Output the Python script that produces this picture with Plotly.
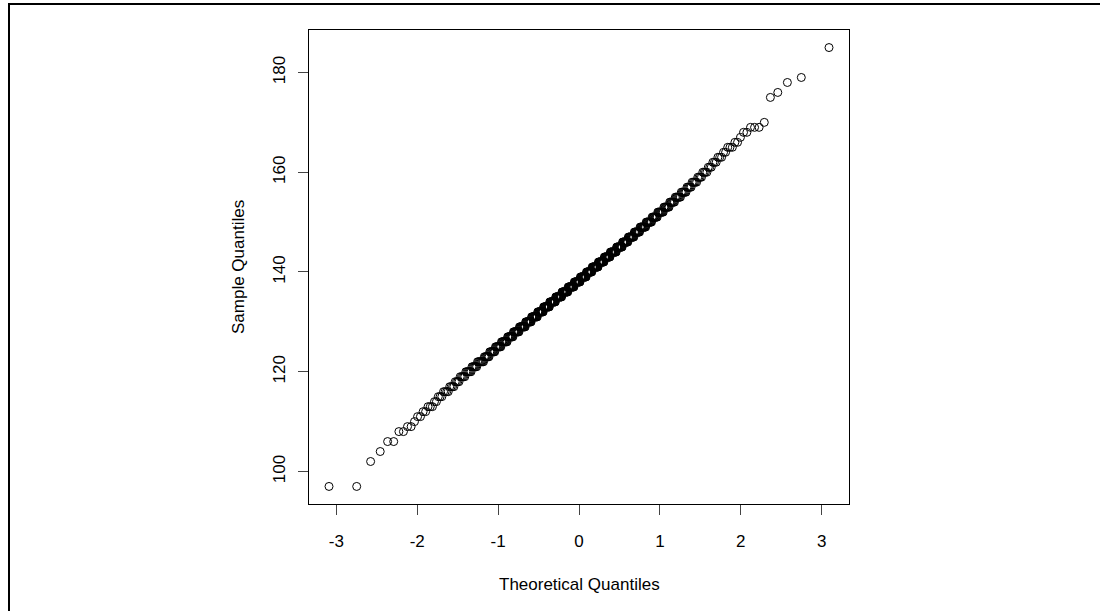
import plotly.graph_objects as go
from statistics import NormalDist

# Sorted sample values (integers) and how many observations take each value
sample_values = [97, 102, 104, 106,
                 108, 109, 110, 111, 112, 113, 114, 115, 116, 117, 118, 119,
                 120, 121, 122, 123, 124, 125, 126, 127, 128, 129,
                 130, 131, 132, 133, 134, 135, 136, 137, 138, 139,
                 140, 141, 142, 143, 144, 145, 146, 147, 148, 149,
                 150, 151, 152, 153, 154, 155, 156, 157, 158, 159,
                 160, 161, 162, 163, 164, 165, 166, 167, 168, 169,
                 170, 175, 176, 178, 179, 185]
sample_counts = [2, 1, 1, 2,
                 2, 2, 1, 2, 2, 3, 2, 3, 4, 4, 4, 5,
                 6, 6, 8, 7, 8, 9, 10, 10, 11, 12,
                 12, 13, 13, 14, 14, 15, 15, 15, 15, 15,
                 14, 15, 14, 14, 14, 13, 12, 12, 11, 11,
                 10, 9, 9, 8, 7, 7, 6, 5, 5, 4,
                 4, 3, 3, 3, 2, 3, 2, 1, 2, 3,
                 1, 1, 1, 1, 1, 1]

x_ticks = [-3, -2, -1, 0, 1, 2, 3]
x_tick_text = ["-3", "-2", "-1", "0", "1", "2", "3"]
y_ticks = [100, 120, 140, 160, 180]
y_tick_text = ["100", "120", "140", "160", "180"]

x_title = "Theoretical Quantiles"
y_title = "Sample Quantiles"

# Expand to the ordered sample
sample = []
for v, c in zip(sample_values, sample_counts):
    sample.extend([v] * c)
n = len(sample)

# Normal scores from plotting positions (i - 0.5) / n, as in qqnorm
nd = NormalDist()
theoretical = [nd.inv_cdf((i + 0.5) / n) for i in range(n)]


def padded(lo, hi, frac=0.04):
    span = hi - lo
    return [lo - frac * span, hi + frac * span]


x_range = padded(min(theoretical), max(theoretical))
y_range = padded(min(sample), max(sample))

W, H = 1100, 611
L, R, T, B = 309, 849, 30, 504  # plot box edges in pixels

FONT = "Liberation Sans, Arial, sans-serif"


def px_x(p):
    return (p - L) / (R - L)


def px_y(p):
    return (B - p) / (B - T)


fig = go.Figure(
    go.Scatter(
        x=theoretical,
        y=sample,
        mode="markers",
        marker=dict(symbol="circle-open", size=8, color="black",
                    line=dict(width=1, color="black")),
        hoverinfo="x+y",
    )
)

axis_common = dict(
    showgrid=False,
    zeroline=False,
    showline=True,
    linecolor="black",
    linewidth=1,
    mirror=True,
    ticks="outside",
    ticklen=10,
    tickwidth=1,
    tickcolor="#444",
    tickfont=dict(family=FONT, size=17, color="black"),
)

fig.update_layout(
    width=W,
    height=H,
    margin=dict(l=L, r=W - R, t=T, b=H - B, pad=0),
    paper_bgcolor="white",
    plot_bgcolor="white",
    showlegend=False,
    xaxis=dict(range=x_range, tickvals=x_ticks, ticktext=x_tick_text,
               ticklabelstandoff=12, **axis_common),
    yaxis=dict(range=y_range, tickvals=y_ticks, ticktext=y_tick_text,
               tickangle=-90, ticklabelstandoff=6, **axis_common),
    annotations=[
        dict(text=x_title, xref="paper", yref="paper",
             x=0.5, y=px_y(584), xanchor="center", yanchor="middle",
             showarrow=False, font=dict(family=FONT, size=17, color="black")),
        dict(text=y_title, xref="paper", yref="paper",
             x=px_x(238), y=0.5, xanchor="center", yanchor="middle",
             textangle=-90, showarrow=False,
             font=dict(family=FONT, size=17, color="black")),
    ],
    shapes=[
        # page frame (top and left edges)
        dict(type="line", xref="paper", yref="paper",
             x0=px_x(8), x1=px_x(1110), y0=px_y(4), y1=px_y(4),
             line=dict(color="black", width=2)),
        dict(type="line", xref="paper", yref="paper",
             x0=px_x(9), x1=px_x(9), y0=px_y(3), y1=px_y(620),
             line=dict(color="black", width=2)),
    ],
)

fig.write_html("out.html")
